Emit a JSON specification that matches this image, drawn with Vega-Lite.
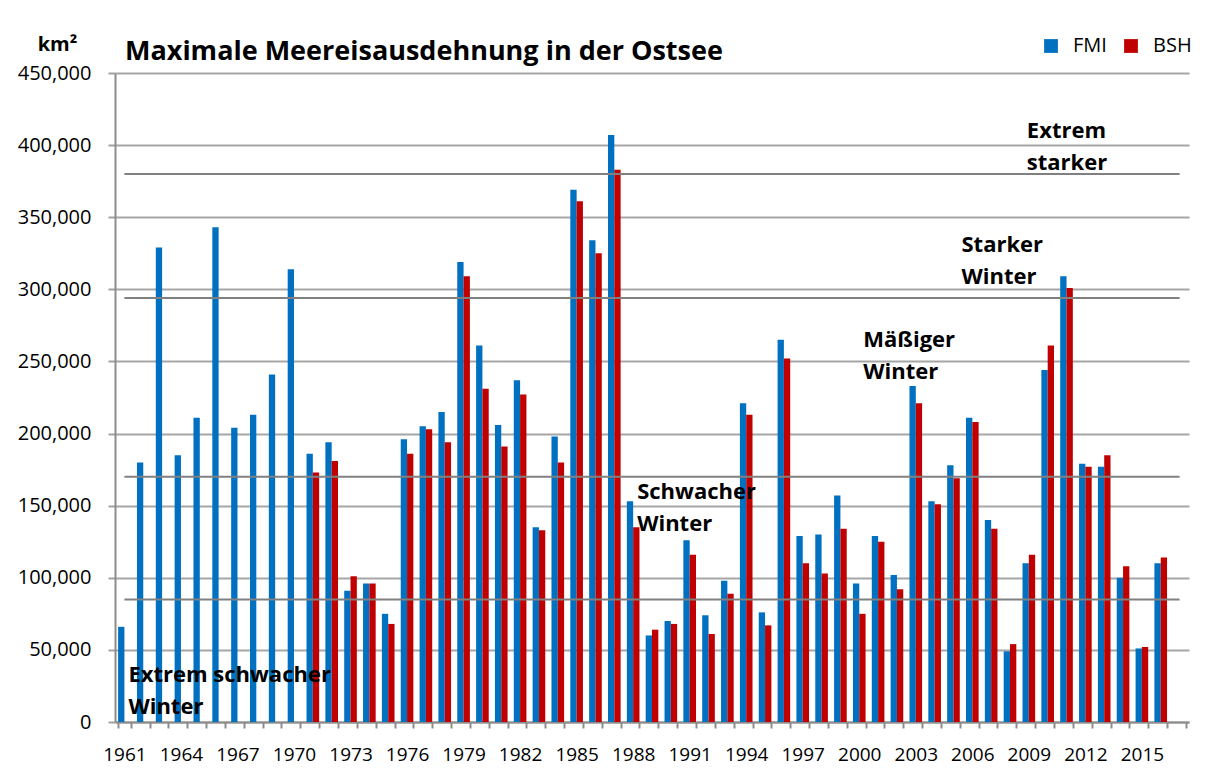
{
  "$schema": "https://vega.github.io/schema/vega-lite/v6.json",
  "width": 1074,
  "height": 649,
  "autosize": {"type": "none"},
  "padding": {"left": 115, "top": 73, "right": 26, "bottom": 51},
  "background": "white",
  "title": {
    "text": "Maximale Meereisausdehnung in der Ostsee",
    "anchor": "start",
    "frame": "group",
    "dx": 10,
    "offset": -53,
    "baseline": "alphabetic",
    "font": "Open Sans",
    "fontSize": 27,
    "fontWeight": "bold",
    "color": "#000000"
  },
  "config": {
    "view": {"stroke": null},
    "font": "Open Sans"
  },
  "datasets": {
    "bars": [
      {"year": "1961", "source": "FMI", "value": 66000},
      {"year": "1962", "source": "FMI", "value": 180000},
      {"year": "1963", "source": "FMI", "value": 329000},
      {"year": "1964", "source": "FMI", "value": 185000},
      {"year": "1965", "source": "FMI", "value": 211000},
      {"year": "1966", "source": "FMI", "value": 343000},
      {"year": "1967", "source": "FMI", "value": 204000},
      {"year": "1968", "source": "FMI", "value": 213000},
      {"year": "1969", "source": "FMI", "value": 241000},
      {"year": "1970", "source": "FMI", "value": 314000},
      {"year": "1971", "source": "FMI", "value": 186000},
      {"year": "1971", "source": "BSH", "value": 173000},
      {"year": "1972", "source": "FMI", "value": 194000},
      {"year": "1972", "source": "BSH", "value": 181000},
      {"year": "1973", "source": "FMI", "value": 91000},
      {"year": "1973", "source": "BSH", "value": 101000},
      {"year": "1974", "source": "FMI", "value": 96000},
      {"year": "1974", "source": "BSH", "value": 96000},
      {"year": "1975", "source": "FMI", "value": 75000},
      {"year": "1975", "source": "BSH", "value": 68000},
      {"year": "1976", "source": "FMI", "value": 196000},
      {"year": "1976", "source": "BSH", "value": 186000},
      {"year": "1977", "source": "FMI", "value": 205000},
      {"year": "1977", "source": "BSH", "value": 203000},
      {"year": "1978", "source": "FMI", "value": 215000},
      {"year": "1978", "source": "BSH", "value": 194000},
      {"year": "1979", "source": "FMI", "value": 319000},
      {"year": "1979", "source": "BSH", "value": 309000},
      {"year": "1980", "source": "FMI", "value": 261000},
      {"year": "1980", "source": "BSH", "value": 231000},
      {"year": "1981", "source": "FMI", "value": 206000},
      {"year": "1981", "source": "BSH", "value": 191000},
      {"year": "1982", "source": "FMI", "value": 237000},
      {"year": "1982", "source": "BSH", "value": 227000},
      {"year": "1983", "source": "FMI", "value": 135000},
      {"year": "1983", "source": "BSH", "value": 133000},
      {"year": "1984", "source": "FMI", "value": 198000},
      {"year": "1984", "source": "BSH", "value": 180000},
      {"year": "1985", "source": "FMI", "value": 369000},
      {"year": "1985", "source": "BSH", "value": 361000},
      {"year": "1986", "source": "FMI", "value": 334000},
      {"year": "1986", "source": "BSH", "value": 325000},
      {"year": "1987", "source": "FMI", "value": 407000},
      {"year": "1987", "source": "BSH", "value": 383000},
      {"year": "1988", "source": "FMI", "value": 153000},
      {"year": "1988", "source": "BSH", "value": 135000},
      {"year": "1989", "source": "FMI", "value": 60000},
      {"year": "1989", "source": "BSH", "value": 64000},
      {"year": "1990", "source": "FMI", "value": 70000},
      {"year": "1990", "source": "BSH", "value": 68000},
      {"year": "1991", "source": "FMI", "value": 126000},
      {"year": "1991", "source": "BSH", "value": 116000},
      {"year": "1992", "source": "FMI", "value": 74000},
      {"year": "1992", "source": "BSH", "value": 61000},
      {"year": "1993", "source": "FMI", "value": 98000},
      {"year": "1993", "source": "BSH", "value": 89000},
      {"year": "1994", "source": "FMI", "value": 221000},
      {"year": "1994", "source": "BSH", "value": 213000},
      {"year": "1995", "source": "FMI", "value": 76000},
      {"year": "1995", "source": "BSH", "value": 67000},
      {"year": "1996", "source": "FMI", "value": 265000},
      {"year": "1996", "source": "BSH", "value": 252000},
      {"year": "1997", "source": "FMI", "value": 129000},
      {"year": "1997", "source": "BSH", "value": 110000},
      {"year": "1998", "source": "FMI", "value": 130000},
      {"year": "1998", "source": "BSH", "value": 103000},
      {"year": "1999", "source": "FMI", "value": 157000},
      {"year": "1999", "source": "BSH", "value": 134000},
      {"year": "2000", "source": "FMI", "value": 96000},
      {"year": "2000", "source": "BSH", "value": 75000},
      {"year": "2001", "source": "FMI", "value": 129000},
      {"year": "2001", "source": "BSH", "value": 125000},
      {"year": "2002", "source": "FMI", "value": 102000},
      {"year": "2002", "source": "BSH", "value": 92000},
      {"year": "2003", "source": "FMI", "value": 233000},
      {"year": "2003", "source": "BSH", "value": 221000},
      {"year": "2004", "source": "FMI", "value": 153000},
      {"year": "2004", "source": "BSH", "value": 151000},
      {"year": "2005", "source": "FMI", "value": 178000},
      {"year": "2005", "source": "BSH", "value": 169000},
      {"year": "2006", "source": "FMI", "value": 211000},
      {"year": "2006", "source": "BSH", "value": 208000},
      {"year": "2007", "source": "FMI", "value": 140000},
      {"year": "2007", "source": "BSH", "value": 134000},
      {"year": "2008", "source": "FMI", "value": 49000},
      {"year": "2008", "source": "BSH", "value": 54000},
      {"year": "2009", "source": "FMI", "value": 110000},
      {"year": "2009", "source": "BSH", "value": 116000},
      {"year": "2010", "source": "FMI", "value": 244000},
      {"year": "2010", "source": "BSH", "value": 261000},
      {"year": "2011", "source": "FMI", "value": 309000},
      {"year": "2011", "source": "BSH", "value": 301000},
      {"year": "2012", "source": "FMI", "value": 179000},
      {"year": "2012", "source": "BSH", "value": 177000},
      {"year": "2013", "source": "FMI", "value": 177000},
      {"year": "2013", "source": "BSH", "value": 185000},
      {"year": "2014", "source": "FMI", "value": 100000},
      {"year": "2014", "source": "BSH", "value": 108000},
      {"year": "2015", "source": "FMI", "value": 51000},
      {"year": "2015", "source": "BSH", "value": 52000},
      {"year": "2016", "source": "FMI", "value": 110000},
      {"year": "2016", "source": "BSH", "value": 114000}
    ],
    "thresholds": [
      {"year": "1961", "end": "2017", "value": 85000},
      {"year": "1961", "end": "2017", "value": 170000},
      {"year": "1961", "end": "2017", "value": 294000},
      {"year": "1961", "end": "2017", "value": 380000}
    ],
    "labels": [
      {"year": "1961", "value": 27700, "label": "Extrem schwacher\nWinter"},
      {"year": "1988", "value": 154600, "label": "Schwacher\nWinter"},
      {"year": "2000", "value": 260000, "label": "Mäßiger\nWinter"}
    ],
    "labels2": [
      {"year": "2005", "value": 325900, "label": "Starker\nWinter"}
    ],
    "labels3": [
      {"year": "2009", "value": 405000, "label": "Extrem\nstarker"}
    ]
  },
  "encoding": {
    "x": {
      "field": "year",
      "type": "nominal",
      "sort": null,
      "scale": {
        "domain": ["1961","1962","1963","1964","1965","1966","1967","1968","1969","1970","1971","1972","1973","1974","1975","1976","1977","1978","1979","1980","1981","1982","1983","1984","1985","1986","1987","1988","1989","1990","1991","1992","1993","1994","1995","1996","1997","1998","1999","2000","2001","2002","2003","2004","2005","2006","2007","2008","2009","2010","2011","2012","2013","2014","2015","2016","2017"],
        "paddingInner": 0.33,
        "paddingOuter": 0.165
      },
      "axis": {
        "title": null,
        "labelAngle": 0,
        "labelExpr": "(toNumber(datum.value) - 1961) % 3 == 0 ? datum.value : ''",
        "labelFont": "Open Sans",
        "labelFontSize": 19,
        "labelColor": "#000000",
        "labelBaseline": "alphabetic",
        "labelPadding": 32,
        "labelOverlap": false,
        "tickBand": "extent",
        "tickSize": 6,
        "tickColor": "#8c8c8c",
        "tickWidth": 2,
        "domainColor": "#8c8c8c",
        "domainWidth": 2,
        "grid": false
      }
    }
  },
  "layer": [
    {
      "data": {"name": "bars"},
      "mark": {"type": "bar"},
      "encoding": {
        "xOffset": {"field": "source", "type": "nominal", "sort": ["FMI", "BSH"], "scale": {"domain": ["FMI", "BSH"], "paddingInner": 0, "paddingOuter": 0}},
        "y": {
          "field": "value",
          "type": "quantitative",
          "scale": {"domain": [0, 450000], "nice": false, "zero": true},
          "axis": {
            "title": "km²",
            "titleAngle": 0,
            "titleAlign": "center",
            "titleBaseline": "alphabetic",
            "titleX": -58,
            "titleY": -23,
            "titleFont": "Open Sans",
            "titleFontSize": 20,
            "titleFontWeight": "bold",
            "titleColor": "#000000",
            "values": [0, 50000, 100000, 150000, 200000, 250000, 300000, 350000, 400000, 450000],
            "format": ",.0f",
            "labelFont": "Open Sans",
            "labelFontSize": 20,
            "labelColor": "#000000",
            "labelPadding": 17,
            "tickSize": 7,
            "tickColor": "#a0a0a0",
            "tickWidth": 2,
            "domainColor": "#8c8c8c",
            "domainWidth": 2,
            "grid": true,
            "gridColor": "#a6a6a6",
            "gridWidth": 2
          }
        },
        "color": {
          "field": "source",
          "type": "nominal",
          "scale": {"domain": ["FMI", "BSH"], "range": ["#0070C0", "#C00000"]},
          "legend": {
            "title": null,
            "orient": "none",
            "legendX": 926,
            "legendY": -37,
            "direction": "horizontal",
            "symbolType": "square",
            "symbolSize": 190,
            "symbolStrokeWidth": 0,
            "labelFont": "Open Sans",
            "labelFontSize": 20,
            "labelColor": "#000000",
            "labelOffset": 12,
            "columnPadding": 14
          }
        }
      }
    },
    {
      "data": {"name": "thresholds"},
      "mark": {"type": "rule", "color": "#808080", "strokeWidth": 2},
      "encoding": {
        "x2": {"field": "end"},
        "y": {"field": "value", "type": "quantitative"}
      }
    },
    {
      "data": {"name": "labels"},
      "mark": {
        "type": "text",
        "align": "left",
        "baseline": "alphabetic",
        "dx": 4,
        "font": "Open Sans",
        "fontSize": 22,
        "fontWeight": "bold",
        "color": "#000000",
        "lineBreak": "\n",
        "lineHeight": 32
      },
      "encoding": {
        "y": {"field": "value", "type": "quantitative"},
        "text": {"field": "label"}
      }
    },
    {
      "data": {"name": "labels2"},
      "mark": {
        "type": "text",
        "align": "left",
        "baseline": "alphabetic",
        "dx": 8,
        "font": "Open Sans",
        "fontSize": 22,
        "fontWeight": "bold",
        "color": "#000000",
        "lineBreak": "\n",
        "lineHeight": 32
      },
      "encoding": {
        "y": {"field": "value", "type": "quantitative"},
        "text": {"field": "label"}
      }
    },
    {
      "data": {"name": "labels3"},
      "mark": {
        "type": "text",
        "align": "left",
        "baseline": "alphabetic",
        "dx": -2,
        "font": "Open Sans",
        "fontSize": 22,
        "fontWeight": "bold",
        "color": "#000000",
        "lineBreak": "\n",
        "lineHeight": 32
      },
      "encoding": {
        "y": {"field": "value", "type": "quantitative"},
        "text": {"field": "label"}
      }
    }
  ]
}
